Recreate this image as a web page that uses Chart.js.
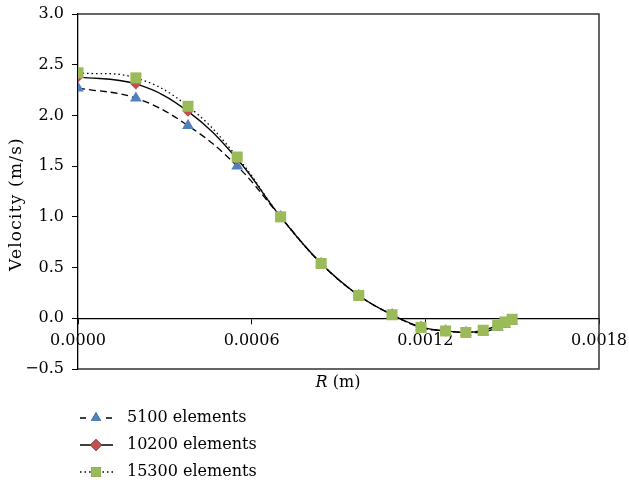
<!DOCTYPE html>
<html>
<head>
<meta charset="utf-8">
<script src="https://cdn.jsdelivr.net/npm/chart.js@4"></script>
<style>
  html, body { margin: 0; padding: 0; background: #fff; }
  #wrap { width: 629px; height: 487px; position: relative; }
</style>
</head>
<body>
<div id="wrap"><canvas id="velocityChart"></canvas></div>
<script>
// radial position (m)
const rValues = [0, 0.0002, 0.00038, 0.00055, 0.0007, 0.00084, 0.00097, 0.001085, 0.001185, 0.00127, 0.00134, 0.0014, 0.00145, 0.001475, 0.0015];
// velocity (m/s) per mesh
const v5100 = [2.27, 2.17, 1.90, 1.50, 1.0, 0.54, 0.225, 0.035, -0.09, -0.125, -0.14, -0.135, -0.09, -0.06, -0.03];
const v10200 = [2.38, 2.31, 2.04, 1.57, 1.0, 0.54, 0.225, 0.035, -0.085, -0.125, -0.14, -0.12, -0.07, -0.04, -0.01];
const v15300 = [2.42, 2.37, 2.09, 1.59, 1.0, 0.54, 0.225, 0.035, -0.09, -0.125, -0.14, -0.118, -0.069, -0.036, -0.01];
const seriesLabels = ['5100 elements', '10200 elements', '15300 elements'];
const yTicks = [-0.5, 0, 0.5, 1.0, 1.5, 2.0, 2.5, 3.0];
const xTicks = [0, 0.0006, 0.0012, 0.0018];

const FONT = 'DejaVu Serif';
const toPoints = vals => vals.map((v, i) => ({x: rValues[i], y: v}));

const styles = [
    {color: '#4F81BD', point: 'triangle', radius: 6.8, dash: [7, 4]},
    {color: '#C0504D', point: 'rectRot', radius: 5.5, dash: []},
    {color: '#9BBB59', point: 'rect', radius: 7.8, dash: [1.5, 3]}
];

function makeDataset(label, vals, s, order) {
    return {
        label: label,
        data: toPoints(vals),
        borderColor: '#000',
        borderWidth: 1.3,
        borderDash: s.dash,
        tension: 0.4,
        pointStyle: s.point,
        pointRadius: s.radius,
        pointBackgroundColor: s.color,
        pointBorderColor: s.color,
        pointBorderWidth: 0,
        order: order
    };
}

// box around the plot, axis titles, legend
const decorPlugin = {
    id: 'decor',
    beforeDatasetsDraw(chart) {
        const {ctx, chartArea: a} = chart;
        ctx.save();
        ctx.strokeStyle = '#333';
        ctx.lineWidth = 1.5;
        ctx.beginPath();
        ctx.moveTo(a.left, a.top);
        ctx.lineTo(a.right, a.top);
        ctx.lineTo(a.right, a.bottom);
        ctx.lineTo(a.left, a.bottom);
        ctx.stroke();
        ctx.restore();
    },
    afterDraw(chart) {
        const {ctx} = chart;
        ctx.save();
        ctx.fillStyle = '#000';
        ctx.textBaseline = 'middle';

        // y title
        ctx.save();
        ctx.translate(17, 204);
        ctx.rotate(-Math.PI / 2);
        ctx.font = '17px "' + FONT + '"';
        ctx.letterSpacing = '1.2px';
        ctx.textAlign = 'center';
        ctx.fillText('Velocity (m/s)', 0, 0);
        ctx.restore();

        // x title: italic R + (m)
        ctx.font = 'italic 16px "' + FONT + '"';
        const wR = ctx.measureText('R').width;
        ctx.font = '16px "' + FONT + '"';
        const wM = ctx.measureText(' (m)').width;
        const cx = 338, cy = 383;
        let x0 = cx - (wR + wM) / 2;
        ctx.font = 'italic 16px "' + FONT + '"';
        ctx.fillText('R', x0, cy);
        ctx.font = '16px "' + FONT + '"';
        ctx.fillText(' (m)', x0 + wR, cy);

        // legend
        const rows = [418, 445, 472];
        seriesLabels.forEach((lab, i) => {
            const s = styles[i];
            const y = rows[i];
            ctx.strokeStyle = '#000';
            ctx.lineWidth = 1.3;
            ctx.setLineDash(s.dash);
            ctx.beginPath();
            if (i === 0) {
                ctx.setLineDash([]);
                ctx.moveTo(80, y); ctx.lineTo(86, y);
                ctx.moveTo(106, y); ctx.lineTo(112, y);
            } else {
                ctx.moveTo(80, y); ctx.lineTo(113, y);
            }
            ctx.stroke();
            ctx.setLineDash([]);
            Chart.helpers.drawPoint(ctx, {
                pointStyle: s.point,
                radius: i === 2 ? 7 : 6,
                borderWidth: 0
            }, 96, y);
            ctx.fillStyle = s.color;
            ctx.fill();
            ctx.fillStyle = '#000';
            ctx.font = '16px "' + FONT + '"';
            ctx.fillText(lab, 127, y);
        });
        ctx.restore();
    }
};

const ctx = document.getElementById('velocityChart').getContext('2d');
new Chart(ctx, {
    type: 'line',
    data: {
        datasets: [
            makeDataset(seriesLabels[0], v5100, styles[0], 3),
            makeDataset(seriesLabels[1], v10200, styles[1], 2),
            makeDataset(seriesLabels[2], v15300, styles[2], 1)
        ]
    },
    options: {
        responsive: true,
        maintainAspectRatio: false,
        animation: false,
        layout: {
            padding: {left: 0, top: 14, right: 30, bottom: 118}
        },
        scales: {
            x: {
                type: 'linear',
                position: {y: 0},
                min: 0,
                max: 0.0018,
                afterBuildTicks: axis => {
                    axis.ticks = xTicks.map(v => ({value: v}));
                },
                afterFit: axis => {
                    axis.paddingLeft = 0;
                    axis.paddingRight = 0;
                    axis.paddingTop = 0;
                    axis.paddingBottom = 0;
                },
                ticks: {
                    color: '#000',
                    font: {family: FONT, size: 16},
                    padding: 8,
                    maxRotation: 0,
                    autoSkip: false,
                    callback: v => v.toFixed(4)
                },
                grid: {
                    drawOnChartArea: false,
                    tickLength: 5,
                    color: '#000'
                },
                border: {color: '#000', width: 1.3}
            },
            y: {
                min: -0.5,
                max: 3.0,
                afterBuildTicks: axis => {
                    axis.ticks = yTicks.map(v => ({value: v}));
                },
                afterFit: axis => {
                    axis.width = 78;
                    axis.paddingTop = 0;
                    axis.paddingBottom = 0;
                },
                ticks: {
                    color: '#000',
                    font: {family: FONT, size: 16},
                    padding: 8,
                    callback: v => (v < 0 ? '\u2212' + Math.abs(v).toFixed(1) : v.toFixed(1))
                },
                grid: {
                    drawOnChartArea: false,
                    tickLength: 6,
                    color: '#000'
                },
                border: {color: '#000', width: 1.3}
            }
        },
        plugins: {
            legend: {display: false},
            tooltip: {enabled: false}
        }
    },
    plugins: [decorPlugin]
});
</script>
</body>
</html>
